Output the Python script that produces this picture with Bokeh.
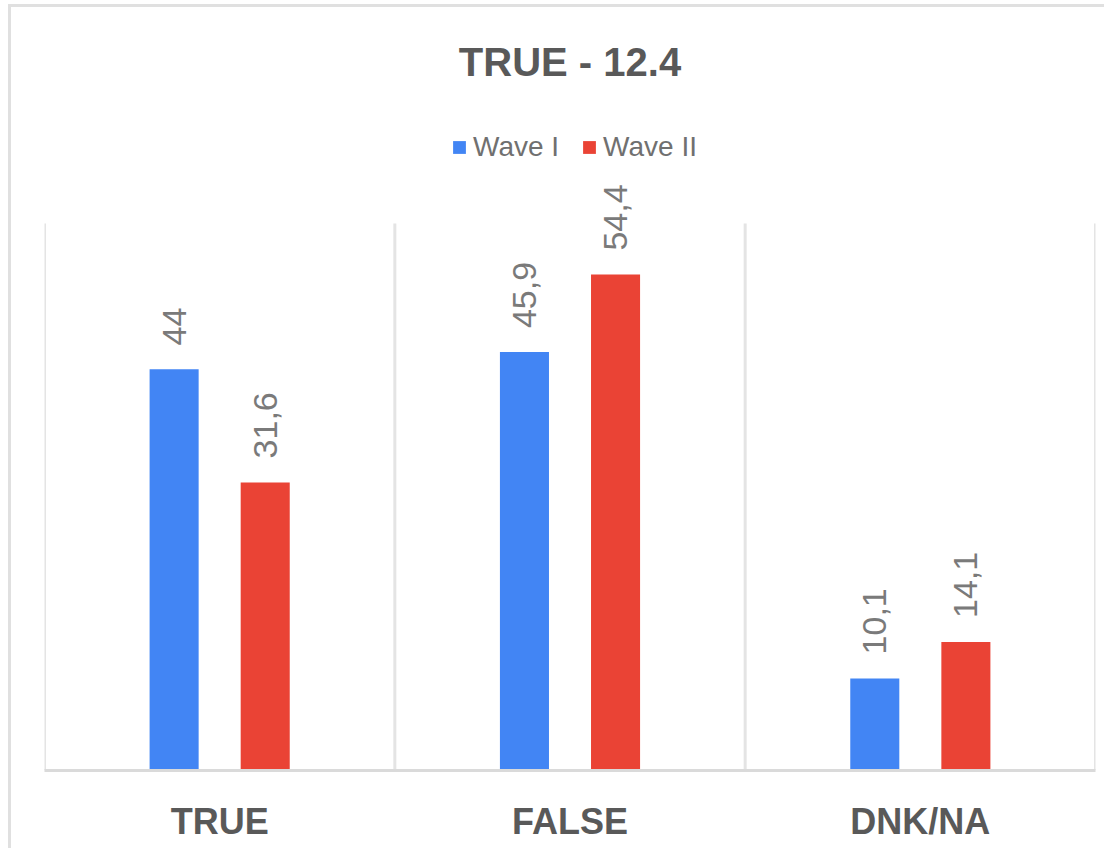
import numpy as np
from bokeh.plotting import figure
from bokeh.models import (ColumnDataSource, LabelSet, Label, Legend, LegendItem,
                          FixedTicker, Range1d)
from bokeh.embed import file_html
from bokeh.resources import INLINE
from bokeh.core.properties import value

# ---- data ----
title_text = "TRUE - 12.4"
categories = ["TRUE", "FALSE", "DNK/NA"]
series_names = ["Wave I", "Wave II"]
wave1 = [44.0, 45.9, 10.1]
wave2 = [31.6, 54.4, 14.1]
series_values = [wave1, wave2]
colors = ["#4285F4", "#EA4335"]
y_max = 60

FONT = "Liberation Sans"

# ---- layout (pixels) ----
W, H = 1104, 848
B_LEFT, B_RIGHT, B_TOP, B_BOTTOM = 44, 9, 13, 78
FRAME_H = H - B_TOP - B_BOTTOM
BARS_H = 547                      # pixel height of the 0..y_max band
y_top = y_max * FRAME_H / BARS_H  # extra room above the bars for title/legend
BASE = H - B_BOTTOM               # canvas y of the frame bottom

p = figure(width=W, height=H, output_backend="svg", toolbar_location=None,
           x_range=Range1d(0, len(categories)), y_range=Range1d(0, y_top),
           y_axis_type=None,
           min_border_left=B_LEFT, min_border_right=B_RIGHT,
           min_border_top=B_TOP, min_border_bottom=B_BOTTOM)
# thin light-grey chart border (left and top) drawn behind a transparent canvas border
p.styles = {
    "background-color": "white",
    "background-image": "linear-gradient(#e0e0e0, #e0e0e0), linear-gradient(#e0e0e0, #e0e0e0)",
    "background-size": "3px 100%, 100% 3px",
    "background-position": "8px 4px, 8px 4px",
    "background-repeat": "no-repeat",
}
p.outline_line_color = None
p.background_fill_color = "white"
p.border_fill_alpha = 0
p.xgrid.grid_line_color = None
p.ygrid.grid_line_color = None

# category separators (vertical grid lines over the 0..y_max band)
bounds = np.arange(len(categories) + 1)
p.segment(x0=bounds, y0=0, x1=bounds, y1=y_max, line_color="#e4e4e4", line_width=3)

# bars
offsets = [-0.13, 0.13]
bar_w = 0.14
centers = np.arange(len(categories)) + 0.5
items = []
for name, vals, off, col in zip(series_names, series_values, offsets, colors):
    src = ColumnDataSource(dict(
        x=centers + off,
        top=vals,
        label=[f"{v:g}".replace(".", ",") for v in vals],
    ))
    r = p.vbar(x="x", top="top", width=bar_w, bottom=0, source=src,
               fill_color=col, line_color=None)
    items.append(LegendItem(label=name, renderers=[r]))
    labels = LabelSet(x="x", y="top", text="label", source=src,
                      angle=np.pi / 2, text_align="left", text_baseline="middle",
                      y_offset=24, text_font=value(FONT), text_font_size="34px",
                      text_color="#7a7a7a")
    p.add_layout(labels)

# title
title = Label(x=(W - B_LEFT - B_RIGHT) / 2, y=BASE - 61, x_units="screen", y_units="screen",
              text=title_text, text_align="center", text_baseline="middle",
              text_font=FONT, text_font_size="40px", text_font_style="bold",
              text_color="#595959")
p.add_layout(title)

# legend
legend = Legend(items=items, orientation="horizontal",
                location=(407, BASE - 148 - 15),
                glyph_width=16, glyph_height=16, label_height=30,
                label_standoff=6, spacing=22,
                padding=0, margin=0, border_line_color=None,
                background_fill_alpha=0,
                label_text_font=FONT, label_text_font_size="28px",
                label_text_color="#707070")
p.add_layout(legend, "center")

# x axis
p.xaxis.ticker = FixedTicker(ticks=list(centers))
p.xaxis.major_label_overrides = {float(c): cat for c, cat in zip(centers, categories)}
p.xaxis.major_label_text_font = FONT
p.xaxis.major_label_text_font_size = "36px"
p.xaxis.major_label_text_font_style = "bold"
p.xaxis.major_label_text_color = "#595959"
p.xaxis.major_label_standoff = 24
p.xaxis.major_tick_line_color = None
p.xaxis.minor_tick_line_color = None
p.xaxis.axis_line_color = "#dadada"
p.xaxis.axis_line_width = 3

open("out.html", "w").write(file_html(p, INLINE))
